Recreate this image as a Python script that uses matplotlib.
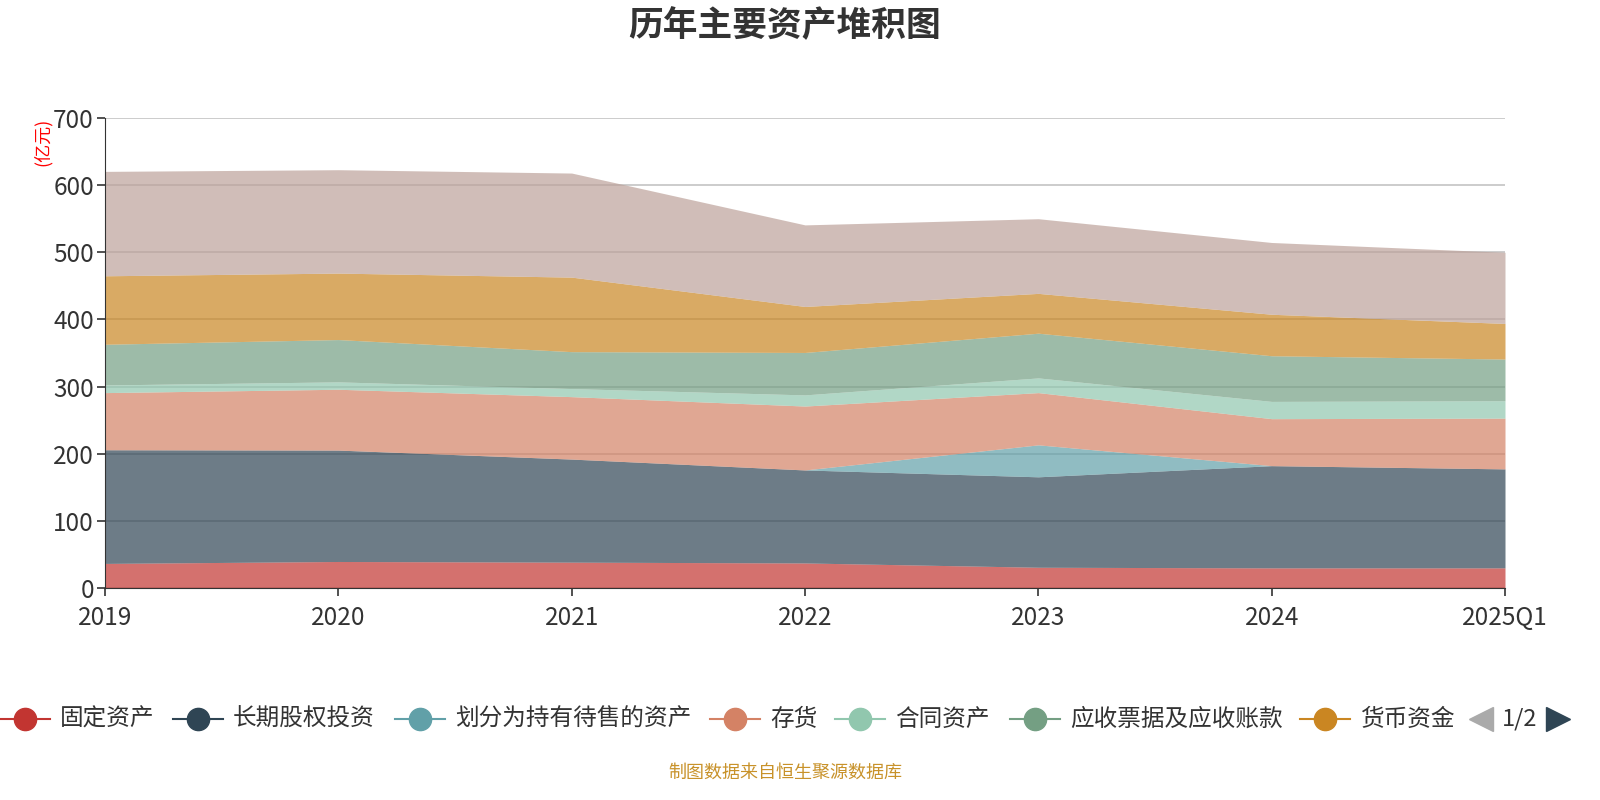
import numpy as np
import matplotlib.pyplot as plt
from matplotlib.lines import Line2D

plt.rcParams['font.family'] = ['Noto Sans CJK SC', 'DejaVu Sans']

# data (亿元)
years = ['2019', '2020', '2021', '2022', '2023', '2024', '2025Q1']
names = ['固定资产', '长期股权投资', '划分为持有待售的资产', '存货', '合同资产',
         '应收票据及应收账款', '货币资金', '其他资产']
fixed = [36.6, 39.5, 38.5, 37.3, 30.9, 30.0, 30.0]
equity = [169.3, 165.9, 153.5, 138.5, 134.7, 152.2, 147.4]
held_sale = [0, 0, 0, 0, 47.6, 0, 0]
stock = [85.1, 90.6, 93.0, 95.2, 77.8, 70.0, 75.6]
contract = [11.4, 11.0, 12.0, 16.6, 21.9, 25.7, 25.9]
receivable = [60.6, 63.0, 55.0, 63.2, 66.6, 68.0, 62.1]
cash = [102.0, 99.0, 111.0, 68.5, 59.3, 61.8, 53.0]
other = [155.5, 154.0, 155.0, 121.5, 111.2, 106.9, 106.0]

colors = ['#c23531', '#2f4554', '#61a0a8', '#d48265', '#91c7ae',
          '#749f83', '#ca8622', '#bda29a']

series = [fixed, equity, held_sale, stock, contract, receivable, cash, other]

fig = plt.figure(figsize=(16, 8), dpi=100)
ax = fig.add_axes([105/1600, 1-588/800, 1400/1600, 470/800])

x = np.arange(len(years))
base = np.zeros(len(years))
for vals, c in zip(series, colors):
    top = base + np.array(vals)
    ax.fill_between(x, base, top, color=c, alpha=0.7, linewidth=0, zorder=2)
    base = top

ax.set_xlim(0, len(years)-1)
ax.set_ylim(0, 700)
ax.set_xticks(x)
ax.set_xticklabels(years)
ax.set_yticks(range(0, 701, 100))
ax.grid(axis='y', color='#c4c4c4', linewidth=1.2, zorder=1)
ax.set_axisbelow(True)
for s in ['top', 'right']:
    ax.spines[s].set_visible(False)
ax.spines['left'].set_color('#333333')
ax.spines['bottom'].set_color('#333333')
ax.tick_params(axis='both', labelsize=17.5, colors='#333333', length=6, width=1.2)
ax.tick_params(axis='y', pad=2)
ax.tick_params(axis='x', pad=6)

fig.text(785/1600, 1-26/800, '历年主要资产堆积图', ha='center', va='center',
         fontsize=25, fontweight='bold', color='#333333')
fig.text(43/1600, 1-142/800, '(亿元)', ha='center', va='center', rotation=90,
         fontsize=13, color='red')

# legend (page 1 of 2)
leg_x = [25, 198, 420, 735, 860, 1035, 1325]
ly = 1 - 719/800
for px, nm, c in zip(leg_x, names[:7], colors[:7]):
    fig.add_artist(Line2D([(px-25)/1600, (px+25)/1600], [ly, ly], color=c, linewidth=1.5))
    fig.add_artist(Line2D([px/1600], [ly], marker='o', markersize=16, color=c, linestyle='none'))
    fig.text((px+35)/1600, ly, nm, ha='left', va='center', fontsize=17, color='#333333')
fig.add_artist(Line2D([1481/1600], [ly], marker='<', markersize=17, color='#aaaaaa', linestyle='none'))
fig.text(1520/1600, ly, '1/2', ha='center', va='center', fontsize=17, color='#333333')
fig.add_artist(Line2D([1558/1600], [ly], marker='>', markersize=17, color='#2f4554', linestyle='none'))

fig.text(785/1600, 1-773/800, '制图数据来自恒生聚源数据库', ha='center', va='center',
         fontsize=13, color='#c8922a')

fig.savefig('out.png', dpi=100)
